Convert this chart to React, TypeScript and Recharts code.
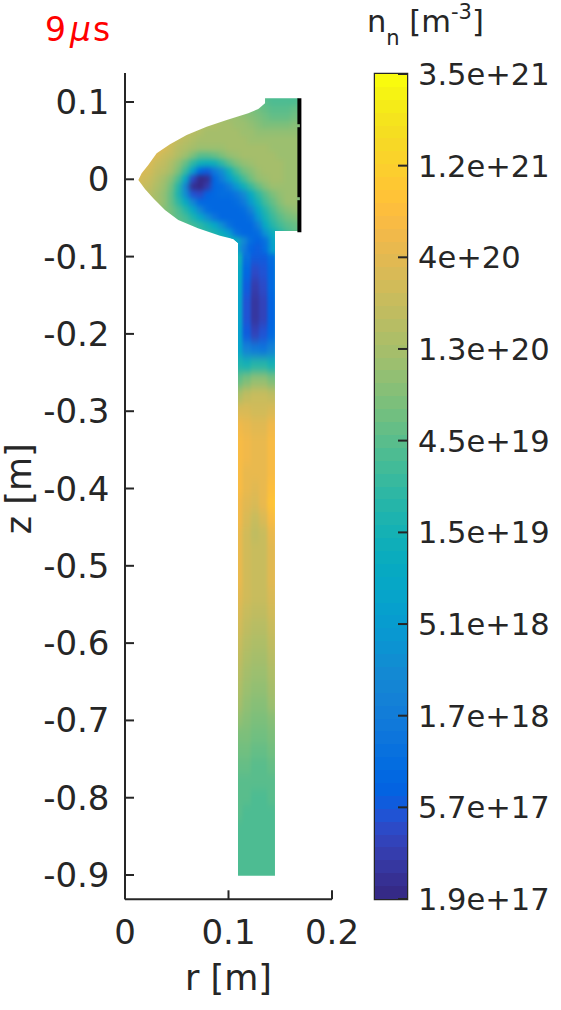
import { BarChart, Bar, ScatterChart, Scatter, XAxis, YAxis, ReferenceArea } from 'recharts'

const INK = '#262626'
const FONT = '"DejaVu Sans", sans-serif'
const TICK_SIZE = 34
const CB_TICK_SIZE = 30.5
const LABEL_SIZE = 35
const WIDTH = 561
const HEIGHT = 1010

// plot box in the page, r/z limits are the ones of the original axes
const Y_AXIS_W = 100
const X_AXIS_H = 100
const MAIN_MARGIN = { left: 25, right: 229, top: 73, bottom: 10.7 }
const R_DOMAIN = [0, 0.2]
const Z_DOMAIN = [-0.9314, 0.1375]
const PLOT_W = WIDTH - MAIN_MARGIN.left - Y_AXIS_W - MAIN_MARGIN.right
const PLOT_H = HEIGHT - MAIN_MARGIN.top - MAIN_MARGIN.bottom - X_AXIS_H

const R_TICKS = [0, 0.1, 0.2]
const R_LABELS = ['0', '0.1', '0.2']
const Z_TICKS = [0.1, 0, -0.1, -0.2, -0.3, -0.4, -0.5, -0.6, -0.7, -0.8, -0.9]
const Z_LABELS = ['0.1', '0', '-0.1', '-0.2', '-0.3', '-0.4', '-0.5', '-0.6', '-0.7', '-0.8', '-0.9']

const CB_TICKS = [0, 7.11, 14.22, 21.33, 28.44, 35.56, 42.67, 49.78, 56.89, 64]
const CB_LABELS = ['1.9e+17', '5.7e+17', '1.7e+18', '5.1e+18', '1.5e+19', '4.5e+19', '1.3e+20', '4e+20', '1.2e+21', '3.5e+21']

const PARULA = [
  [0.2081, 0.1663, 0.5292], [0.2116, 0.1898, 0.5777], [0.2123, 0.2138, 0.627], [0.2081, 0.2386, 0.6771],
  [0.1959, 0.2645, 0.7279], [0.1707, 0.2919, 0.7792], [0.1253, 0.3242, 0.8303], [0.0591, 0.3598, 0.8683],
  [0.0117, 0.3875, 0.882], [0.006, 0.4086, 0.8828], [0.0165, 0.4266, 0.8786], [0.0329, 0.443, 0.872],
  [0.0498, 0.4586, 0.8641], [0.0629, 0.4737, 0.8554], [0.0723, 0.4887, 0.8467], [0.0779, 0.504, 0.8384],
  [0.0793, 0.52, 0.8312], [0.0749, 0.5375, 0.8263], [0.0641, 0.557, 0.824], [0.0488, 0.5772, 0.8228],
  [0.0343, 0.5966, 0.8199], [0.0265, 0.6137, 0.8135], [0.0239, 0.6287, 0.8038], [0.0231, 0.6418, 0.7913],
  [0.0228, 0.6535, 0.7768], [0.0267, 0.6642, 0.7607], [0.0384, 0.6743, 0.7436], [0.059, 0.6838, 0.7254],
  [0.0843, 0.6928, 0.7062], [0.1133, 0.7015, 0.6859], [0.1453, 0.7098, 0.6646], [0.1801, 0.7177, 0.6424],
  [0.2178, 0.725, 0.6193], [0.2586, 0.7317, 0.5954], [0.3022, 0.7376, 0.5712], [0.3482, 0.7424, 0.5473],
  [0.3953, 0.7459, 0.5244], [0.442, 0.7481, 0.5033], [0.4871, 0.7491, 0.484], [0.53, 0.7491, 0.4661],
  [0.5709, 0.7485, 0.4494], [0.6099, 0.7473, 0.4337], [0.6473, 0.7456, 0.4188], [0.6834, 0.7435, 0.4044],
  [0.7184, 0.7411, 0.3905], [0.7525, 0.7384, 0.3768], [0.7858, 0.7356, 0.3633], [0.8185, 0.7327, 0.3498],
  [0.8507, 0.7299, 0.336], [0.8824, 0.7274, 0.3217], [0.9139, 0.7258, 0.3063], [0.945, 0.7261, 0.2886],
  [0.9739, 0.7314, 0.2666], [0.9938, 0.7455, 0.2403], [0.999, 0.7653, 0.2164], [0.9955, 0.7861, 0.1967],
  [0.988, 0.8066, 0.1794], [0.9789, 0.8271, 0.1633], [0.9697, 0.8481, 0.1475], [0.9626, 0.8705, 0.1309],
  [0.9589, 0.8949, 0.1132], [0.9598, 0.9218, 0.0948], [0.9661, 0.9514, 0.0755], [0.9763, 0.9831, 0.0538],
]
const levelColor = (level: number) => {
  const [a, b, c] = PARULA[Math.max(0, Math.min(63, Math.round(level)))]
  return `rgb(${Math.round(a * 255)},${Math.round(b * 255)},${Math.round(c * 255)})`
}

// n_n, as the step (0-63) of the log colour scale
const HEAD_R = [0.01, 0.017, 0.024, 0.031, 0.038, 0.045, 0.052, 0.059, 0.066, 0.073, 0.08, 0.087, 0.094, 0.101, 0.108, 0.115, 0.122, 0.129, 0.136, 0.143, 0.15, 0.157, 0.164, 0.171]
const HEAD_Z = [0.11, 0.1, 0.09, 0.08, 0.07, 0.06, 0.05, 0.04, 0.03, 0.02, 0.01, 0, -0.01, -0.02, -0.03, -0.04, -0.05, -0.06, -0.07, -0.08, -0.09]
const HEAD_LEVELS = [
  [46, 46, 46, 46, 46, 46, 46, 46, 46, 44, 44, 42, 42, 40, 38, 38, 37, 36, 35, 34, 34, 34, 34, 34],
  [46, 46, 46, 46, 46, 46, 46, 46, 46, 44, 44, 42, 42, 40, 38, 38, 37, 36, 35, 34, 34, 34, 34, 35],
  [47, 47, 47, 47, 47, 47, 47, 46, 46, 44, 44, 42, 42, 41, 40, 39, 38, 37, 36, 35, 35, 35, 36, 36],
  [48, 48, 48, 48, 48, 48, 47, 46, 45, 44, 43, 42, 42, 41, 41, 40, 39, 38, 37, 36, 36, 36, 37, 37],
  [48, 48, 48, 48, 48, 47, 47, 46, 45, 44, 43, 43, 42, 42, 41, 41, 40, 39, 38, 38, 38, 38, 39, 39],
  [49, 49, 49, 49, 48, 48, 46, 45, 44, 43, 42, 42, 42, 42, 42, 41, 41, 40, 40, 40, 40, 40, 40, 40],
  [50, 50, 50, 50, 49, 47, 45, 44, 43, 42, 42, 42, 42, 42, 42, 42, 41, 41, 41, 41, 41, 41, 41, 41],
  [50, 50, 50, 49, 48, 46, 44, 43, 42, 41, 41, 41, 41, 42, 42, 42, 42, 42, 42, 41, 41, 41, 41, 41],
  [50, 50, 49, 48, 46, 45, 43, 41, 38, 35, 35, 36, 38, 40, 41, 42, 42, 42, 42, 42, 41, 41, 41, 41],
  [50, 49, 48, 46, 45, 43, 40, 36, 31, 27, 26, 27, 31, 35, 38, 40, 41, 42, 42, 42, 42, 41, 41, 41],
  [49, 48, 47, 45, 44, 42, 38, 32, 22, 9, 7, 13, 18, 27, 33, 37, 39, 41, 42, 42, 42, 41, 41, 41],
  [49, 47, 46, 44, 42, 39, 34, 24, 5, 0, 1, 9, 14, 21, 28, 33, 37, 40, 41, 42, 42, 41, 41, 41],
  [48, 46, 45, 43, 41, 37, 30, 16, 1, 0, 3, 9, 10, 13, 20, 27, 32, 36, 39, 41, 41, 41, 41, 41],
  [46, 45, 44, 42, 40, 36, 29, 18, 6, 5, 8, 9, 10, 10, 12, 17, 25, 31, 35, 38, 40, 41, 41, 41],
  [44, 44, 43, 42, 40, 36, 31, 25, 16, 9, 9, 9, 9, 9, 10, 13, 21, 28, 33, 36, 39, 41, 41, 41],
  [43, 43, 42, 41, 39, 37, 34, 30, 24, 16, 10, 9, 9, 9, 9, 10, 15, 24, 30, 34, 37, 39, 40, 41],
  [42, 42, 42, 41, 39, 37, 35, 33, 29, 24, 18, 12, 9, 9, 9, 9, 11, 20, 28, 32, 35, 37, 38, 39],
  [40, 40, 40, 40, 38, 37, 36, 35, 33, 31, 28, 24, 18, 11, 9, 9, 9, 14, 25, 30, 33, 35, 36, 37],
  [38, 38, 38, 38, 37, 36, 36, 35, 34, 32, 31, 29, 26, 21, 11, 9, 9, 10, 19, 26, 30, 33, 35, 36],
  [36, 36, 36, 36, 36, 36, 35, 35, 34, 33, 32, 31, 30, 28, 26, 17, 10, 8, 11, 23, 28, 30, 32, 33],
  [35, 35, 35, 35, 35, 35, 35, 34, 33, 32, 31, 30, 29, 27, 25, 14, 8, 7, 10, 22, 27, 29, 31, 32],
]

const TUBE_R = [0.11, 0.118, 0.126, 0.134, 0.142, 0.15]
const TUBE_Z = [-0.08, -0.1, -0.12, -0.14, -0.16, -0.18, -0.2, -0.22, -0.24, -0.26, -0.28, -0.3, -0.32, -0.34, -0.36, -0.38, -0.4, -0.42, -0.44, -0.46, -0.48, -0.5, -0.52, -0.54, -0.56, -0.58, -0.6, -0.62, -0.64, -0.66, -0.68, -0.7, -0.72, -0.74, -0.76, -0.78, -0.8, -0.82, -0.84, -0.86, -0.88, -0.9, -0.92]
const TUBE_LEVELS = [
  [26, 14, 9, 9, 22, 28],
  [27, 11, 7, 7, 10, 24],
  [25, 9, 5, 6, 9, 24],
  [24, 7, 3, 5, 9, 23],
  [23, 6, 2, 4, 8, 21],
  [23, 6, 2, 4, 8, 20],
  [22, 7, 4, 6, 9, 20],
  [23, 15, 13, 12, 15, 22],
  [29, 28, 30, 30, 28, 29],
  [36, 38, 40, 40, 38, 36],
  [43, 45, 46, 46, 45, 43],
  [48, 48, 47, 47, 48, 48],
  [51, 50, 49, 49, 51, 51],
  [52, 51, 50, 50, 52, 52],
  [52, 51, 50, 50, 52, 53],
  [52, 50, 50, 50, 52, 53],
  [52, 50, 49, 50, 53, 54],
  [51, 49, 48, 50, 54, 58],
  [51, 48, 46, 48, 52, 56],
  [50, 47, 45, 46, 50, 51],
  [50, 47, 46, 46, 49, 51],
  [50, 47, 46, 46, 49, 50],
  [50, 47, 46, 46, 49, 50],
  [49, 47, 46, 46, 48, 49],
  [48, 46, 45, 45, 47, 48],
  [47, 45, 44, 44, 46, 47],
  [46, 44, 43, 43, 45, 46],
  [45, 43, 42, 42, 44, 45],
  [44, 42, 41, 41, 43, 44],
  [43, 41, 40, 40, 42, 43],
  [42, 40, 39, 39, 41, 42],
  [40, 39, 38, 38, 39, 40],
  [38, 38, 37, 37, 38, 38],
  [37, 37, 36, 36, 37, 37],
  [36, 36, 35, 35, 36, 36],
  [35, 35, 35, 35, 35, 35],
  [35, 35, 34, 34, 35, 35],
  [35, 34, 34, 34, 34, 35],
  [34, 34, 34, 34, 34, 34],
  [34, 34, 34, 34, 34, 34],
  [34, 34, 34, 34, 34, 34],
  [34, 34, 34, 34, 34, 34],
  [34, 34, 34, 34, 34, 34],
]

// outline of the simulated region in r, z
const OUTLINE_R = [0.0129, 0.0161, 0.0225, 0.0306, 0.0435, 0.0596, 0.0789, 0.0983, 0.1191, 0.1288, 0.1353, 0.1353, 0.1675, 0.1675, 0.1449, 0.1449, 0.1092, 0.1092, 0.1046, 0.0918, 0.0705, 0.0515, 0.0386, 0.0273, 0.0193]
const OUTLINE_Z = [-0.0009, 0.0078, 0.0185, 0.0336, 0.0453, 0.0573, 0.068, 0.0767, 0.0854, 0.0909, 0.0983, 0.1048, 0.1048, -0.0669, -0.0669, -0.9009, -0.9009, -0.0824, -0.0772, -0.073, -0.0634, -0.0527, -0.0397, -0.0246, -0.0125]

const WALL_R = [0.1685, 0.1685]
const WALL_Z = [0.1048, -0.0686]
const WALL_GAP_R = [0.1675, 0.1675]
const WALL_GAP_Z = [0.0693, -0.0251]

const toCells = (rs: number[], zs: number[], rows: number[][]) =>
  zs.flatMap((z, i) => rs.map((r, j) => ({ r, z, level: rows[i][j] })))

const headCells = toCells(HEAD_R, HEAD_Z, HEAD_LEVELS)
const tubeCells = toCells(TUBE_R, TUBE_Z, TUBE_LEVELS)
const wall = WALL_R.map((r, i) => ({ r, z: WALL_Z[i] }))
const wallGaps = WALL_GAP_R.map((r, i) => ({ r, z: WALL_GAP_Z[i] }))

const PX_PER_R = PLOT_W / (R_DOMAIN[1] - R_DOMAIN[0])
const PX_PER_Z = PLOT_H / (Z_DOMAIN[1] - Z_DOMAIN[0])
const OUTLINE_POINTS = OUTLINE_R.map((r, i) => {
  const x = MAIN_MARGIN.left + Y_AXIS_W + r * PX_PER_R
  const y = MAIN_MARGIN.top + (Z_DOMAIN[1] - OUTLINE_Z[i]) * PX_PER_Z
  return `${x},${y}`
}).join(' ')

const cellShape = (w: number, h: number) => (props: any) => (
  <rect
    x={props.cx - w / 2 - 0.5}
    y={props.cy - h / 2 - 0.5}
    width={w + 1}
    height={h + 1}
    fill={levelColor(props.payload.level)}
  />
)
const headShape = cellShape(0.007 * PX_PER_R, 0.01 * PX_PER_Z)
const tubeShape = cellShape(0.008 * PX_PER_R, 0.02 * PX_PER_Z)

const noShape = () => null
const gapShape = (props: any) => (
  <rect x={props.cx - 1.5} y={props.cy - 1.5} width={3} height={3} fill="#86ba79" />
)

function RTick({ x, y, index }: any) {
  return (
    <g>
      <line x1={x} x2={x} y1={y} y2={y - 9} stroke={INK} strokeWidth={2} />
      <text x={x} y={y + 45} textAnchor="middle" fontSize={TICK_SIZE} fontFamily={FONT} fill={INK}>
        {R_LABELS[index]}
      </text>
    </g>
  )
}

function ZTick({ x, y, index }: any) {
  return (
    <g>
      <line x1={x} x2={x + 9} y1={y} y2={y} stroke={INK} strokeWidth={2} />
      <text x={x - 15.5} y={y + 12} textAnchor="end" fontSize={TICK_SIZE} fontFamily={FONT} fill={INK}>
        {Z_LABELS[index]}
      </text>
    </g>
  )
}

function CbTick({ x, y, index }: any) {
  return (
    <g>
      <line x1={x - 9} x2={x} y1={y} y2={y} stroke={INK} strokeWidth={2} />
      <text x={x + 11} y={y + 11} textAnchor="start" fontSize={CB_TICK_SIZE} fontFamily={FONT} fill={INK}>
        {CB_LABELS[index]}
      </text>
    </g>
  )
}

const cbRow = [{ name: 'cb', ...Object.fromEntries(PARULA.map((_, i) => [`l${i}`, 1])) }]

export default function App() {
  return (
    <div style={{ position: 'absolute', left: 0, top: 0, width: WIDTH, height: HEIGHT, background: '#fff' }}>
      <style>{`
        .head-cells { filter: url(#headBlur); clip-path: url(#domainClip); }
        .tube-cells { filter: url(#tubeBlur); clip-path: url(#domainClip); }
      `}</style>
      <div style={{ position: 'absolute', left: 0, top: 0 }}>
        <ScatterChart width={WIDTH} height={HEIGHT} margin={MAIN_MARGIN}>
          <defs>
            <filter id="headBlur" x="-5%" y="-5%" width="110%" height="110%" colorInterpolationFilters="sRGB">
              <feGaussianBlur stdDeviation="2.4" />
            </filter>
            <filter id="tubeBlur" x="-5%" y="-5%" width="110%" height="110%" colorInterpolationFilters="sRGB">
              <feGaussianBlur stdDeviation="1.8 5" />
              <feComponentTransfer>
                <feFuncA type="linear" slope="20" />
              </feComponentTransfer>
            </filter>
            <clipPath id="domainClip">
              <polygon points={OUTLINE_POINTS} />
            </clipPath>
          </defs>
          <XAxis
            type="number"
            dataKey="r"
            domain={R_DOMAIN}
            ticks={R_TICKS}
            interval={0}
            height={X_AXIS_H}
            tickLine={false}
            tickSize={0}
            tickMargin={0}
            axisLine={{ stroke: INK, strokeWidth: 2 }}
            tick={RTick}
            label={{ value: 'r [m]', position: 'insideBottom', offset: 9, fontSize: LABEL_SIZE, fontFamily: FONT, fill: INK }}
          />
          <YAxis
            type="number"
            dataKey="z"
            domain={Z_DOMAIN}
            ticks={Z_TICKS}
            interval={0}
            width={Y_AXIS_W}
            tickLine={false}
            tickSize={0}
            tickMargin={0}
            axisLine={{ stroke: INK, strokeWidth: 2 }}
            tick={ZTick}
            label={{ value: 'z [m]', angle: -90, position: 'insideLeft', offset: -6, dy: 48, fontSize: LABEL_SIZE, fontFamily: FONT, fill: INK }}
          />
          <Scatter data={tubeCells} className="tube-cells" shape={tubeShape} isAnimationActive={false} />
          <Scatter data={headCells} className="head-cells" shape={headShape} isAnimationActive={false} />
          <Scatter
            data={wall}
            line={{ stroke: '#000000', strokeWidth: 4 }}
            shape={noShape}
            isAnimationActive={false}
          />
          <Scatter data={wallGaps} shape={gapShape} isAnimationActive={false} />
          <text x={45} y={41} fontSize={33} fontFamily={FONT} fill="#ff0000">
            <tspan>9</tspan>
            <tspan x={70} fontStyle="italic">μ</tspan>
            <tspan x={93}>s</tspan>
          </text>
        </ScatterChart>
      </div>
      <div style={{ position: 'absolute', left: 0, top: 0 }}>
        <BarChart
          width={WIDTH}
          height={HEIGHT}
          data={cbRow}
          barCategoryGap={0}
          barGap={0}
          margin={{ left: 375, right: 4, top: 74, bottom: 111 }}
        >
          <XAxis dataKey="name" hide />
          <YAxis
            orientation="right"
            type="number"
            domain={[0, 64]}
            ticks={CB_TICKS}
            interval={0}
            width={150}
            tickLine={false}
            tickSize={0}
            tickMargin={0}
            axisLine={false}
            tick={CbTick}
          />
          {PARULA.map((_, i) => (
            <Bar
              key={i}
              dataKey={`l${i}`}
              stackId="cb"
              fill={levelColor(i)}
              shapeRendering="crispEdges"
              isAnimationActive={false}
            />
          ))}
          <ReferenceArea y1={0} y2={64} fill="none" stroke={INK} strokeWidth={2.5} />
          <text x={367} y={32} fontSize={30.5} fontFamily={FONT} fill={INK}>
            <tspan>n</tspan>
            <tspan fontSize={21} dy={13}>n</tspan>
            <tspan dy={-13}> [m</tspan>
            <tspan fontSize={21} dy={-13}>-3</tspan>
            <tspan dy={13}>]</tspan>
          </text>
        </BarChart>
      </div>
    </div>
  )
}
